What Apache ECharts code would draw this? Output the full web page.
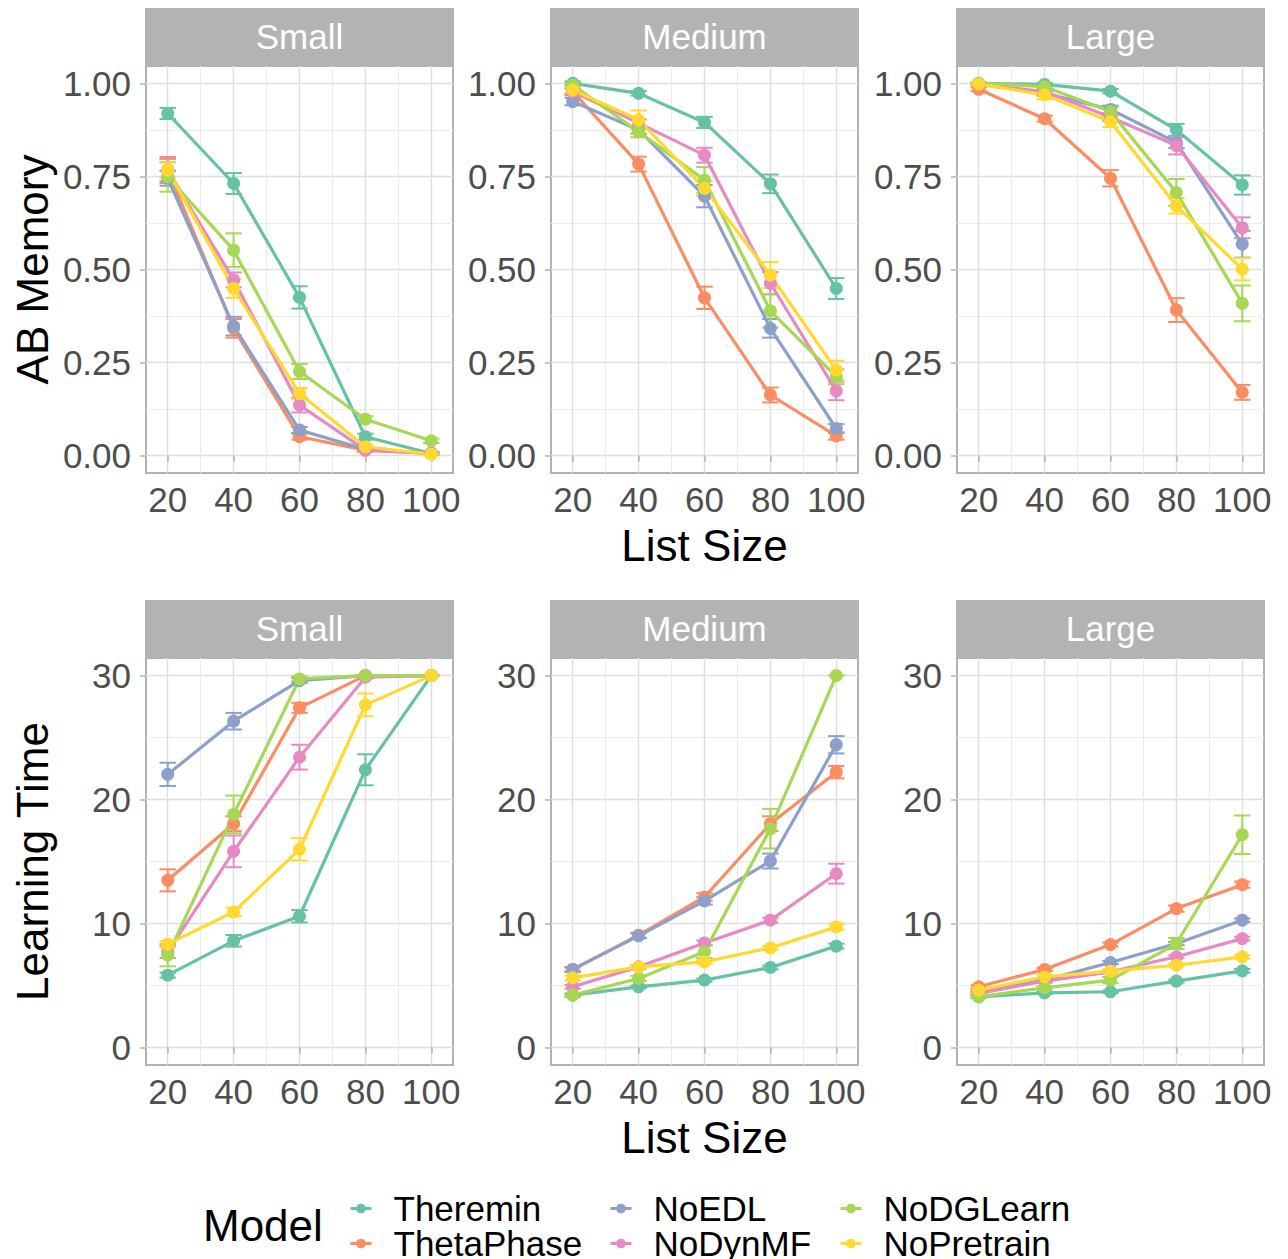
<!DOCTYPE html>
<html><head><meta charset="utf-8">
<script src="https://cdn.jsdelivr.net/npm/echarts@6/dist/echarts.min.js"></script>
<style>html,body{margin:0;padding:0;background:#fff}#c{width:1288px;height:1259px}</style>
</head><body><div id="c"></div>
<script>
// ---------- data ----------
const listSizes = [20, 40, 60, 80, 100];
const models = ['Theremin', 'ThetaPhase', 'NoEDL', 'NoDynMF', 'NoDGLearn', 'NoPretrain'];
const panelSizes = ['Small', 'Medium', 'Large'];
const rowTitles = ['AB Memory', 'Learning Time'];
const xTicks = [20, 40, 60, 80, 100];
const memoryTicks = [0, 0.25, 0.5, 0.75, 1.0];
const timeTicks = [0, 10, 20, 30];

// AB Memory (rows in `models` order, columns in `listSizes` order)
const memorySmall = [
  [0.919, 0.731, 0.425, 0.051, 0.006],
  [0.767, 0.342, 0.051, 0.015, 0.006],
  [0.745, 0.348, 0.069, 0.017, 0.006],
  [0.767, 0.472, 0.136, 0.015, 0.006],
  [0.749, 0.552, 0.226, 0.098, 0.040],
  [0.767, 0.449, 0.167, 0.024, 0.004]
];
const memorySmallErr = [
  [0.015, 0.028, 0.030, 0.008, 0.004],
  [0.035, 0.025, 0.008, 0.004, 0.003],
  [0.020, 0.025, 0.008, 0.004, 0.003],
  [0.030, 0.020, 0.020, 0.004, 0.003],
  [0.040, 0.045, 0.020, 0.008, 0.006],
  [0.020, 0.025, 0.015, 0.006, 0.003]
];
const memoryMedium = [
  [1.000, 0.973, 0.895, 0.730, 0.449],
  [0.978, 0.783, 0.424, 0.163, 0.053],
  [0.951, 0.875, 0.697, 0.342, 0.073],
  [0.978, 0.893, 0.807, 0.463, 0.174],
  [0.995, 0.870, 0.740, 0.389, 0.212],
  [0.982, 0.902, 0.718, 0.485, 0.230]
];
const memoryMediumErr = [
  [0.005, 0.006, 0.015, 0.025, 0.028],
  [0.010, 0.020, 0.030, 0.020, 0.010],
  [0.010, 0.010, 0.030, 0.025, 0.012],
  [0.008, 0.010, 0.020, 0.030, 0.025],
  [0.006, 0.015, 0.035, 0.045, 0.020],
  [0.008, 0.025, 0.020, 0.035, 0.025]
];
const memoryLarge = [
  [1.000, 0.997, 0.979, 0.875, 0.727],
  [0.984, 0.905, 0.745, 0.391, 0.170],
  [0.998, 0.973, 0.930, 0.841, 0.568],
  [0.998, 0.978, 0.909, 0.833, 0.612],
  [1.000, 0.991, 0.924, 0.707, 0.409],
  [0.998, 0.969, 0.897, 0.671, 0.501]
];
const memoryLargeErr = [
  [0.003, 0.004, 0.006, 0.016, 0.026],
  [0.005, 0.008, 0.022, 0.032, 0.020],
  [0.003, 0.006, 0.010, 0.015, 0.036],
  [0.003, 0.006, 0.010, 0.024, 0.028],
  [0.003, 0.005, 0.012, 0.036, 0.048],
  [0.004, 0.012, 0.015, 0.021, 0.030]
];

// Learning Time
const timeSmall = [
  [5.83, 8.60, 10.58, 22.40, 30.0],
  [13.48, 18.05, 27.40, 30.0, 30.0],
  [22.03, 26.32, 29.60, 30.0, 30.0],
  [7.71, 15.82, 23.42, 29.87, 30.0],
  [7.44, 18.80, 29.73, 30.0, 30.0],
  [8.33, 10.93, 15.98, 27.64, 30.0]
];
const timeSmallErr = [
  [0.20, 0.47, 0.50, 1.25, 0.0],
  [0.89, 0.60, 0.40, 0.0, 0.0],
  [0.94, 0.67, 0.20, 0.0, 0.0],
  [0.50, 1.28, 1.00, 0.10, 0.0],
  [0.90, 1.52, 0.20, 0.0, 0.0],
  [0.25, 0.35, 0.90, 0.92, 0.0]
];
const timeMedium = [
  [4.22, 4.89, 5.43, 6.45, 8.17],
  [6.29, 9.05, 12.14, 18.05, 22.21],
  [6.29, 9.00, 11.82, 15.04, 24.42],
  [4.89, 6.50, 8.43, 10.26, 14.02],
  [4.22, 5.56, 7.71, 17.65, 30.0],
  [5.61, 6.50, 6.90, 8.03, 9.72]
];
const timeMediumErr = [
  [0.10, 0.10, 0.12, 0.15, 0.20],
  [0.15, 0.20, 0.30, 0.60, 0.50],
  [0.20, 0.20, 0.30, 0.60, 0.70],
  [0.15, 0.15, 0.20, 0.20, 0.80],
  [0.15, 0.20, 0.50, 1.60, 0.0],
  [0.20, 0.15, 0.15, 0.15, 0.25]
];
const timeLarge = [
  [4.08, 4.40, 4.49, 5.35, 6.18],
  [4.89, 6.29, 8.30, 11.20, 13.13],
  [4.49, 5.43, 6.85, 8.38, 10.26],
  [4.35, 5.35, 6.10, 7.31, 8.78],
  [4.08, 4.81, 5.43, 8.38, 17.16],
  [4.62, 5.69, 6.15, 6.63, 7.31]
];
const timeLargeErr = [
  [0.10, 0.10, 0.10, 0.12, 0.15],
  [0.12, 0.12, 0.15, 0.25, 0.25],
  [0.10, 0.12, 0.12, 0.12, 0.15],
  [0.10, 0.12, 0.12, 0.12, 0.15],
  [0.10, 0.12, 0.25, 0.45, 1.55],
  [0.25, 0.20, 0.15, 0.12, 0.15]
];

// ---------- layout / style ----------
const palette = ['#66C2A5', '#FC8D62', '#8DA0CB', '#E78AC3', '#A6D854', '#FFD92F'];
const FONT = '"Liberation Sans", Arial, Helvetica, sans-serif';
const colLeft = [146, 551, 957];
const rowTop = [66, 658];
const panelW = 307, panelH = 407, stripH = 58;
const xRange = [13.4, 106.6];
const yRanges = [[-0.0465, 1.0465], [-1.42, 31.42]];
const yIntervals = [0.25, 10];
const yTickSets = [memoryTicks, timeTicks];
const capWidth = 5; // errorbar width in data units (list size)

const panelValues = [
  [memorySmall, memoryMedium, memoryLarge],
  [timeSmall, timeMedium, timeLarge]
];
const panelErrors = [
  [memorySmallErr, memoryMediumErr, memoryLargeErr],
  [timeSmallErr, timeMediumErr, timeLargeErr]
];

const grids = [], xAxes = [], yAxes = [], lineSeries = [], errSeries = [], graphics = [];

for (let r = 0; r < 2; r++) {
  for (let c = 0; c < 3; c++) {
    const gi = r * 3 + c;
    grids.push({
      left: colLeft[c], top: rowTop[r], width: panelW, height: panelH,
      show: true, borderColor: '#B3B3B3', borderWidth: 2, backgroundColor: 'transparent'
    });
    xAxes.push({
      type: 'value', gridIndex: gi, min: xRange[0], max: xRange[1],
      minInterval: 20, maxInterval: 20,
      name: c === 1 ? 'List Size' : '', nameLocation: 'middle', nameGap: 50,
      nameTextStyle: { fontFamily: FONT, fontSize: 44, color: '#000' },
      axisLine: { show: false },
      axisTick: { show: true, length: 6, customValues: xTicks, lineStyle: { color: '#B3B3B3', width: 1.5 } },
      axisLabel: { show: true, customValues: xTicks,
        fontFamily: FONT, fontSize: 35, color: '#4D4D4D', margin: 9 },
      splitLine: { show: true, lineStyle: { color: '#DEDEDE', width: 1.4 } },
      minorTick: { show: false, splitNumber: 2 },
      minorSplitLine: { show: true, lineStyle: { color: '#EBEBEB', width: 1 } }
    });
    yAxes.push({
      type: 'value', gridIndex: gi, min: yRanges[r][0], max: yRanges[r][1],
      minInterval: yIntervals[r], maxInterval: yIntervals[r],
      name: c === 0 ? rowTitles[r] : '', nameLocation: 'middle', nameGap: 92, nameRotate: 90,
      nameTextStyle: { fontFamily: FONT, fontSize: 44, color: '#000' },
      axisLine: { show: false },
      axisTick: { show: true, length: 6, customValues: yTickSets[r], lineStyle: { color: '#B3B3B3', width: 1.5 } },
      axisLabel: { show: true, customValues: yTickSets[r],
        fontFamily: FONT, fontSize: 35, color: '#4D4D4D', margin: 15,
        formatter: r === 0 ? (v => v.toFixed(2)) : (v => String(Math.round(v))) },
      splitLine: { show: true, lineStyle: { color: '#DEDEDE', width: 1.4 } },
      minorTick: { show: false, splitNumber: 2 },
      minorSplitLine: { show: true, lineStyle: { color: '#EBEBEB', width: 1 } }
    });
    // facet strip
    graphics.push({
      type: 'rect', left: colLeft[c] - 1, top: rowTop[r] - stripH, silent: true,
      shape: { width: panelW + 2, height: stripH }, style: { fill: '#B3B3B3' }
    });
    graphics.push({
      type: 'text', x: colLeft[c] + panelW / 2, y: rowTop[r] - stripH / 2 - 1, silent: true,
      style: { text: panelSizes[c], fill: '#FFFFFF', font: '35px ' + FONT, align: 'center', verticalAlign: 'middle' }
    });

    const vals = panelValues[r][c], errs = panelErrors[r][c];
    models.forEach((m, k) => {
      lineSeries.push({
        type: 'line', name: m, xAxisIndex: gi, yAxisIndex: gi, z: 3,
        data: listSizes.map((x, i) => [x, vals[k][i]]),
        color: palette[k], symbol: 'circle', symbolSize: 13, showSymbol: true,
        lineStyle: { width: 3.2, color: palette[k] }, itemStyle: { color: palette[k] },
        emphasis: { disabled: true }
      });
      errSeries.push({
        type: 'custom', name: m, xAxisIndex: gi, yAxisIndex: gi, z: 2,
        data: listSizes.map((x, i) => [x, vals[k][i], errs[k][i]]),
        encode: { x: 0, y: 1 },
        renderItem: (params, api) => {
          const x = api.value(0), y = api.value(1), e = api.value(2);
          const lo = api.coord([x, y - e]);
          const hi = api.coord([x, y + e]);
          const hw = api.size([capWidth, 0])[0] / 2;
          const style = { stroke: palette[k], lineWidth: 2, fill: null };
          return {
            type: 'group', children: [
              { type: 'line', shape: { x1: lo[0], y1: lo[1], x2: hi[0], y2: hi[1] }, style },
              { type: 'line', shape: { x1: lo[0] - hw, y1: lo[1], x2: lo[0] + hw, y2: lo[1] }, style },
              { type: 'line', shape: { x1: hi[0] - hw, y1: hi[1], x2: hi[0] + hw, y2: hi[1] }, style }
            ]
          };
        }
      });
    });
  }
}

const legendCols = [[models[0], models[1]], [models[2], models[3]], [models[4], models[5]]];
const legendLeft = [349, 609, 839];
const legends = legendCols.map((names, i) => ({
  data: names, orient: 'vertical', left: legendLeft[i], top: 1191, height: 120, padding: 0,
  itemWidth: 21, itemHeight: 12, itemGap: 0,
  lineStyle: { width: 3 },
  textStyle: { fontFamily: FONT, fontSize: 35, color: '#000', lineHeight: 33, padding: [0, 0, 0, 17] },
  selectedMode: false
}));

const chart = echarts.init(document.getElementById('c'), null, { renderer: 'svg' });
chart.setOption({
  animation: false,
  backgroundColor: '#FFFFFF',
  textStyle: { fontFamily: FONT },
  title: { text: 'Model', left: 198, top: 1198, textStyle: { fontFamily: FONT, fontSize: 44, fontWeight: 'normal', color: '#000' } },
  legend: legends,
  grid: grids,
  xAxis: xAxes,
  yAxis: yAxes,
  series: lineSeries.concat(errSeries),
  graphic: graphics
});
</script>
</body></html>
